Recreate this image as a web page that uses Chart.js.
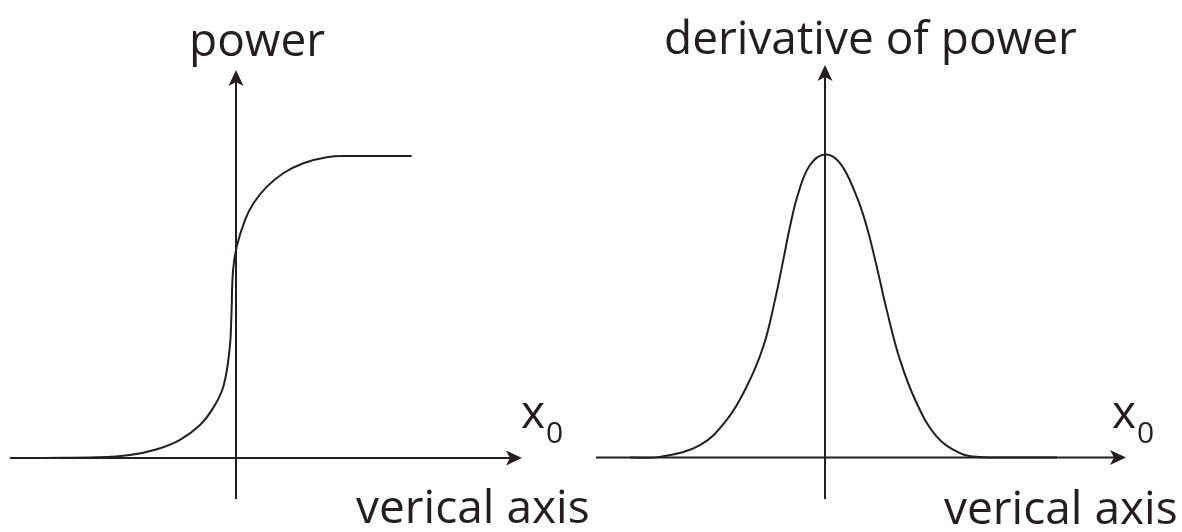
<!DOCTYPE html>
<html>
<head>
<meta charset="utf-8">
<title>power and derivative of power</title>
<script src="https://cdn.jsdelivr.net/npm/chart.js@4/dist/chart.umd.min.js"></script>
<style>
  html, body { margin: 0; padding: 0; background: #ffffff; }
  #wrap { position: relative; width: 1182px; height: 532px; overflow: hidden; }
  .panel { position: absolute; top: 0; }
  #left { left: 0; }
  #right { left: 591px; }
</style>
</head>
<body>
<div id="wrap">
  <canvas id="left" class="panel" width="591" height="532"></canvas>
  <canvas id="right" class="panel" width="591" height="532"></canvas>
</div>
<script>
// Power curve: a steep rise just left of the origin that levels off at 1.
const powerX = [-1.93, -1.39, -1.06, -0.79, -0.56, -0.36, -0.23, -0.127, -0.064, -0.046, -0.03, 0.007, 0.09, 0.173, 0.307, 0.473, 0.673, 0.907, 1.107, 1.757];
const powerY = [0, 0.002, 0.010, 0.029, 0.060, 0.109, 0.165, 0.236, 0.361, 0.470, 0.620, 0.700, 0.788, 0.843, 0.898, 0.943, 0.976, 0.996, 1.0, 1.0];

// Derivative of power: a single bump centred on the origin.
const derivX = [-1.95, -1.65, -1.25, -0.983, -0.783, -0.617, -0.50, -0.417, -0.35, -0.267, -0.15, 0, 0.15, 0.317, 0.417, 0.517, 0.617, 0.75, 0.917, 1.117, 1.35, 1.483, 1.65, 2.32];
const derivY = [0, 0.002, 0.041, 0.124, 0.234, 0.366, 0.520, 0.652, 0.762, 0.872, 0.965, 1.0, 0.971, 0.861, 0.762, 0.630, 0.487, 0.322, 0.179, 0.069, 0.014, 0.003, 0, 0];

const INK = '#231f20';
const FONT = '"Open Sans", "DejaVu Sans", sans-serif';

function toPoints(xs, ys) {
  return xs.map((x, i) => ({ x: x, y: ys[i] }));
}

function arrowHead(ctx, x, y, dir) {
  // dir: 'up' or 'right'; slightly notched back like a drafting arrow
  const len = 16, half = 7.5, notch = 4;
  ctx.beginPath();
  if (dir === 'up') {
    ctx.moveTo(x, y);
    ctx.lineTo(x + half, y + len);
    ctx.lineTo(x, y + len - notch);
    ctx.lineTo(x - half, y + len);
  } else {
    ctx.moveTo(x, y);
    ctx.lineTo(x - len, y - half);
    ctx.lineTo(x - len + notch, y);
    ctx.lineTo(x - len, y + half);
  }
  ctx.closePath();
  ctx.fill();
}

// Draws the crossing axes (through x = 0 and y = 0) with arrowheads and the labels.
const sketchAxes = {
  id: 'sketchAxes',
  afterDatasetsDraw(chart, args, opts) {
    const ctx = chart.ctx;
    const xs = chart.scales.x, ys = chart.scales.y;
    const x0 = xs.getPixelForValue(0), y0 = ys.getPixelForValue(0);
    const xL = xs.getPixelForValue(xs.min), xR = xs.getPixelForValue(xs.max);
    const yT = ys.getPixelForValue(ys.max), yB = ys.getPixelForValue(ys.min);
    ctx.save();
    ctx.strokeStyle = INK;
    ctx.fillStyle = INK;
    ctx.lineWidth = 2;
    ctx.beginPath();
    ctx.moveTo(xL, y0); ctx.lineTo(xR - 8, y0);
    ctx.moveTo(x0, yB); ctx.lineTo(x0, yT + 8);
    ctx.stroke();
    arrowHead(ctx, xR, y0, 'right');
    arrowHead(ctx, x0, yT, 'up');

    ctx.textBaseline = 'alphabetic';
    ctx.textAlign = 'left';
    ctx.font = '46px ' + FONT;
    ctx.fillText(opts.yTitle.text, opts.yTitle.x, opts.yTitle.y);
    ctx.fillText(opts.xBottom.text, opts.xBottom.x, opts.xBottom.y);
    ctx.fillText(opts.xName.text, opts.xName.x, opts.xName.y);
    const w = ctx.measureText(opts.xName.text).width;
    ctx.font = '30px ' + FONT;
    ctx.fillText(opts.xName.sub, opts.xName.x + w + 1, opts.xName.y + 15);
    ctx.restore();
  }
};

function makeChart(id, pts, xr, yr, pad, labels) {
  return new Chart(document.getElementById(id), {
    type: 'scatter',
    data: {
      datasets: [{
        data: pts,
        showLine: true,
        borderColor: INK,
        borderWidth: 2,
        pointRadius: 0,
        tension: 0.4,
        fill: false
      }]
    },
    options: {
      responsive: false,
      animation: false,
      events: [],
      layout: { padding: pad },
      scales: {
        x: { type: 'linear', min: xr[0], max: xr[1], display: false },
        y: { type: 'linear', min: yr[0], max: yr[1], display: false }
      },
      plugins: {
        legend: { display: false },
        tooltip: { enabled: false },
        sketchAxes: labels
      }
    },
    plugins: [sketchAxes]
  });
}

makeChart('left', toPoints(powerX, powerY),
  [-2.26, 2.86], [-0.136, 1.285],
  { left: 10, right: 69, top: 70, bottom: 33 },
  {
    yTitle: { text: 'power', x: 189, y: 56 },
    xName: { text: 'x', x: 521, y: 428, sub: '0' },
    xBottom: { text: 'verical axis', x: 356, y: 523 }
  });

makeChart('right', toPoints(derivX, derivY),
  [-2.29, 3.01], [-0.137, 1.295],
  { left: 5, right: 56, top: 65, bottom: 33 },
  {
    yTitle: { text: 'derivative of power', x: 73, y: 54 },
    xName: { text: 'x', x: 521, y: 428, sub: '0' },
    xBottom: { text: 'verical axis', x: 353, y: 524 }
  });
</script>
</body>
</html>
